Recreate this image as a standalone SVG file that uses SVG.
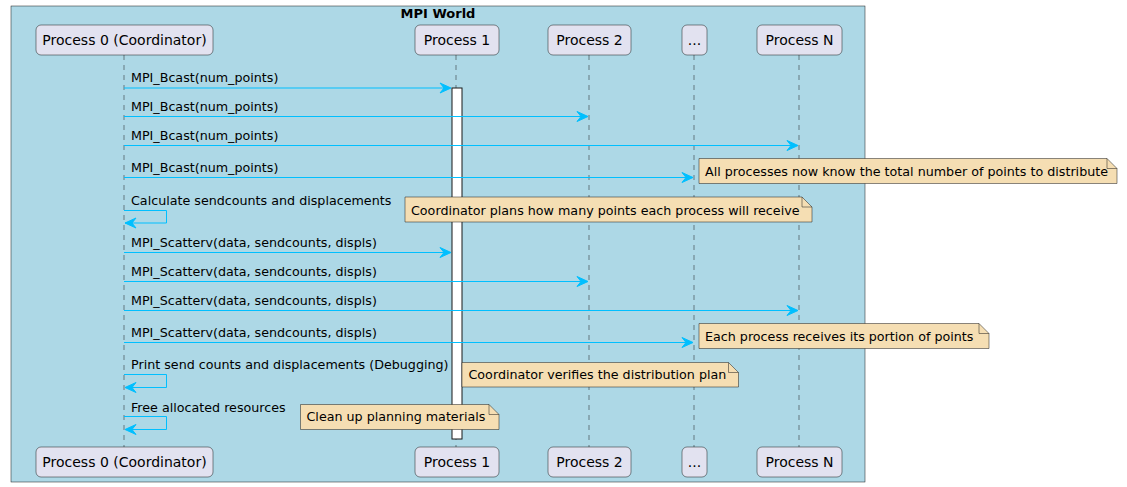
<svg xmlns="http://www.w3.org/2000/svg" width="1127" height="487" viewBox="0 0 1127 487">
<defs>
<style>
.pbox{fill:#E2E2F0;stroke:#181818;stroke-width:0.5}
.ptxt{font-family:"DejaVu Sans",sans-serif;font-size:14px;fill:#000000;text-anchor:middle}
.mtxt{font-family:"DejaVu Sans",sans-serif;font-size:12.7px;fill:#000000}
.life{stroke:#181818;stroke-width:0.5;stroke-dasharray:5,5;fill:none}
.msg{stroke:#00BFFF;stroke-width:1;fill:none}
.head{fill:#00BFFF;stroke:#00BFFF;stroke-width:1}
.note{fill:#F5DEB3;stroke:#181818;stroke-width:0.5}
.fold{fill:none;stroke:#181818;stroke-width:0.5}
</style>
</defs>
<rect x="11" y="6" width="854" height="476" fill="#ADD8E6" stroke="#181818" stroke-width="0.5"/>
<text x="438" y="17.5" font-family="'DejaVu Sans',sans-serif" font-size="13" font-weight="bold" text-anchor="middle">MPI World</text>

<g id="lifelines">
<line class="life" x1="124" y1="55" x2="124" y2="447"/>
<line class="life" x1="456" y1="55" x2="456" y2="447"/>
<line class="life" x1="589" y1="55" x2="589" y2="447"/>
<line class="life" x1="694" y1="55" x2="694" y2="447"/>
<line class="life" x1="799" y1="55" x2="799" y2="447"/>
</g>

<rect id="activation" x="452" y="88" width="10" height="351" fill="#FFFFFF" stroke="#181818" stroke-width="1"/>

<g id="p0">
<rect class="pbox" x="36" y="25" width="177" height="30" rx="5"/>
<text class="ptxt" x="124.5" y="45">Process 0 (Coordinator)</text>
<rect class="pbox" x="36" y="447" width="177" height="30" rx="5"/>
<text class="ptxt" x="124.5" y="467">Process 0 (Coordinator)</text>
</g>
<g id="p1">
<rect class="pbox" x="415" y="25" width="84" height="30" rx="5"/>
<text class="ptxt" x="457" y="45">Process 1</text>
<rect class="pbox" x="415" y="447" width="84" height="30" rx="5"/>
<text class="ptxt" x="457" y="467">Process 1</text>
</g>
<g id="p2">
<rect class="pbox" x="548" y="25" width="83" height="30" rx="5"/>
<text class="ptxt" x="589.5" y="45">Process 2</text>
<rect class="pbox" x="548" y="447" width="83" height="30" rx="5"/>
<text class="ptxt" x="589.5" y="467">Process 2</text>
</g>
<g id="pdots">
<rect class="pbox" x="682" y="25" width="25" height="30" rx="5"/>
<text class="ptxt" x="694.5" y="45">...</text>
<rect class="pbox" x="682" y="447" width="25" height="30" rx="5"/>
<text class="ptxt" x="694.5" y="467">...</text>
</g>
<g id="pN">
<rect class="pbox" x="757" y="25" width="85" height="30" rx="5"/>
<text class="ptxt" x="799.5" y="45">Process N</text>
<rect class="pbox" x="757" y="447" width="85" height="30" rx="5"/>
<text class="ptxt" x="799.5" y="467">Process N</text>
</g>

<g id="connectors">
<line class="msg" x1="124" y1="88" x2="450" y2="88"/>
<polygon class="head" points="440,83 451,88 440,93 444,88"/>
<text class="mtxt" x="131" y="82">MPI_Bcast(num_points)</text>

<line class="msg" x1="124" y1="116.5" x2="587" y2="116.5"/>
<polygon class="head" points="577,111.5 588,116.5 577,121.5 581,116.5"/>
<text class="mtxt" x="131" y="111">MPI_Bcast(num_points)</text>

<line class="msg" x1="124" y1="145.5" x2="797" y2="145.5"/>
<polygon class="head" points="787,140.5 798,145.5 787,150.5 791,145.5"/>
<text class="mtxt" x="131" y="140">MPI_Bcast(num_points)</text>

<line class="msg" x1="124" y1="177.5" x2="692" y2="177.5"/>
<polygon class="head" points="682,172.5 693,177.5 682,182.5 686,177.5"/>
<text class="mtxt" x="131" y="172">MPI_Bcast(num_points)</text>

<polyline class="msg" points="124,210.5 166.5,210.5 166.5,223 125,223"/>
<polygon class="head" points="136,218 125,223 136,228 132,223"/>
<text class="mtxt" x="131" y="205">Calculate sendcounts and displacements</text>

<line class="msg" x1="124" y1="252.5" x2="450" y2="252.5"/>
<polygon class="head" points="440,247.5 451,252.5 440,257.5 444,252.5"/>
<text class="mtxt" x="131" y="247">MPI_Scatterv(data, sendcounts, displs)</text>

<line class="msg" x1="124" y1="281.5" x2="587" y2="281.5"/>
<polygon class="head" points="577,276.5 588,281.5 577,286.5 581,281.5"/>
<text class="mtxt" x="131" y="276">MPI_Scatterv(data, sendcounts, displs)</text>

<line class="msg" x1="124" y1="310.5" x2="797" y2="310.5"/>
<polygon class="head" points="787,305.5 798,310.5 787,315.5 791,310.5"/>
<text class="mtxt" x="131" y="305">MPI_Scatterv(data, sendcounts, displs)</text>

<line class="msg" x1="124" y1="342.5" x2="692" y2="342.5"/>
<polygon class="head" points="682,337.5 693,342.5 682,347.5 686,342.5"/>
<text class="mtxt" x="131" y="337">MPI_Scatterv(data, sendcounts, displs)</text>

<polyline class="msg" points="124,374.5 166.5,374.5 166.5,387.5 125,387.5"/>
<polygon class="head" points="136,382.5 125,387.5 136,392.5 132,387.5"/>
<text class="mtxt" x="131" y="369">Print send counts and displacements (Debugging)</text>

<polyline class="msg" points="124,416.5 166.5,416.5 166.5,429.5 125,429.5"/>
<polygon class="head" points="136,424.5 125,429.5 136,434.5 132,429.5"/>
<text class="mtxt" x="131" y="411.5">Free allocated resources</text>
</g>

<g id="note1">
<path class="note" d="M699,158.5 L699,183.5 L1117,183.5 L1117,168.5 L1107,158.5 Z"/>
<path class="fold" d="M1107,158.5 L1107,168.5 L1117,168.5"/>
<text class="mtxt" x="705" y="176">All processes now know the total number of points to distribute</text>
</g>
<g id="note2">
<path class="note" d="M405,197 L405,222 L812,222 L812,207 L802,197 Z"/>
<path class="fold" d="M802,197 L802,207 L812,207"/>
<text class="mtxt" x="411" y="215">Coordinator plans how many points each process will receive</text>
</g>
<g id="note3">
<path class="note" d="M699,323.5 L699,348.5 L989,348.5 L989,333.5 L979,323.5 Z"/>
<path class="fold" d="M979,323.5 L979,333.5 L989,333.5"/>
<text class="mtxt" x="705" y="341">Each process receives its portion of points</text>
</g>
<g id="note4">
<path class="note" d="M462,362.5 L462,387 L738.5,387 L738.5,372.5 L728.5,362.5 Z"/>
<path class="fold" d="M728.5,362.5 L728.5,372.5 L738.5,372.5"/>
<text class="mtxt" x="468.5" y="379">Coordinator verifies the distribution plan</text>
</g>
<g id="note5">
<path class="note" d="M300.5,404.5 L300.5,429.5 L499,429.5 L499,414.5 L489,404.5 Z"/>
<path class="fold" d="M489,404.5 L489,414.5 L499,414.5"/>
<text class="mtxt" x="306.5" y="421">Clean up planning materials</text>
</g>
</svg>
